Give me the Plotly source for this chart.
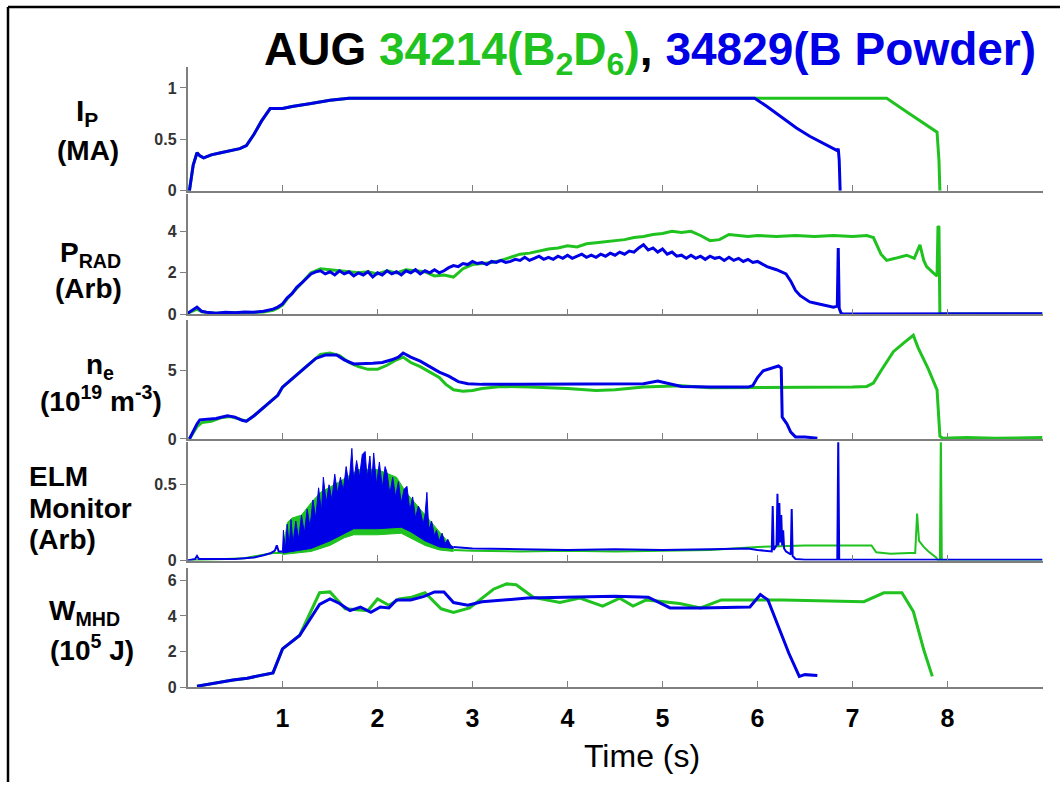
import plotly.graph_objects as go

# ---------------- data ----------------
# Panel 1: plasma current Ip (MA)
ip_blue_t = [0.02, 0.06, 0.1, 0.13, 0.17, 0.25, 0.35, 0.45, 0.55, 0.62, 0.7, 0.78, 0.87, 1.0, 1.1, 1.3, 1.5, 1.7, 2.0, 3.0, 4.0, 5.0, 5.97, 6.1, 6.25, 6.41, 6.55, 6.7, 6.84, 6.85, 6.86, 6.87]
ip_blue_v = [0.0, 0.25, 0.37, 0.34, 0.32, 0.35, 0.37, 0.39, 0.41, 0.44, 0.55, 0.68, 0.8, 0.8, 0.82, 0.85, 0.88, 0.9, 0.9, 0.9, 0.9, 0.9, 0.9, 0.82, 0.72, 0.61, 0.53, 0.46, 0.39, 0.41, 0.3, 0.0]
ip_green_t = [0.02, 0.06, 0.1, 0.13, 0.17, 0.25, 0.35, 0.45, 0.55, 0.62, 0.7, 0.78, 0.87, 1.0, 1.1, 1.3, 1.5, 1.7, 2.0, 3.0, 4.0, 5.0, 6.0, 7.0, 7.36, 7.6, 7.89, 7.91, 7.92]
ip_green_v = [0.0, 0.25, 0.37, 0.34, 0.32, 0.35, 0.37, 0.39, 0.41, 0.44, 0.55, 0.68, 0.8, 0.8, 0.82, 0.85, 0.88, 0.9, 0.9, 0.9, 0.9, 0.9, 0.9, 0.9, 0.9, 0.75, 0.57, 0.3, 0.0]

# Panel 2: radiated power (Arb)
prad_blue_t = [0.0, 0.05, 0.1, 0.15, 0.2, 0.3, 0.4, 0.5, 0.6, 0.7, 0.8, 0.9, 0.95, 1.0, 1.05, 1.1, 1.15, 1.2, 1.25, 1.3, 1.35,
               1.4, 1.45, 1.5, 1.55, 1.6, 1.65, 1.7, 1.75, 1.8, 1.85, 1.9, 1.95, 2.0, 2.05, 2.1, 2.15, 2.2, 2.25, 2.3, 2.35,
               2.4, 2.45, 2.5, 2.55, 2.6, 2.65, 2.7, 2.75, 2.8, 2.85, 2.9, 2.95, 3.0, 3.05, 3.1, 3.15, 3.2, 3.25, 3.3, 3.35,
               3.4, 3.45, 3.5, 3.55, 3.6, 3.65, 3.7, 3.75, 3.8, 3.85, 3.9, 3.95, 4.0, 4.05, 4.1, 4.15, 4.2, 4.25, 4.3, 4.35,
               4.4, 4.45, 4.5, 4.55, 4.6, 4.65, 4.7, 4.75, 4.8, 4.85, 4.9, 4.95, 5.0, 5.05, 5.1, 5.15, 5.2, 5.25, 5.3, 5.35,
               5.4, 5.45, 5.5, 5.55, 5.6, 5.65, 5.7, 5.75, 5.8, 5.85, 5.9, 5.95, 6.0, 6.1, 6.2, 6.3, 6.35, 6.4, 6.45, 6.5,
               6.55, 6.6, 6.65, 6.7, 6.75, 6.8, 6.84, 6.85, 6.86, 6.88, 6.9, 7.0, 8.0, 9.0]
prad_blue_v = [0.05, 0.2, 0.35, 0.15, 0.1, 0.05, 0.1, 0.08, 0.12, 0.1, 0.15, 0.25, 0.35, 0.5, 0.8, 1.0, 1.3, 1.5, 1.75, 1.95, 2.05,
               2.1, 1.95, 2.05, 1.9, 2.1, 1.95, 2.05, 1.85, 2.0, 1.9, 2.05, 1.8, 2.0, 1.9, 2.1, 1.95, 2.05, 1.9, 2.1, 2.0,
               2.15, 1.95, 2.1, 2.0, 2.15, 2.0, 2.1, 2.25, 2.35, 2.3, 2.45, 2.4, 2.55, 2.45, 2.5, 2.4, 2.55, 2.5, 2.6, 2.5,
               2.55, 2.65, 2.6, 2.75, 2.6, 2.7, 2.8, 2.65, 2.75, 2.65, 2.8, 2.7, 2.85, 2.7, 2.8, 2.9, 2.75, 2.85, 2.75, 2.9,
               2.8, 2.95, 2.85, 3.0, 2.9, 3.05, 3.0, 3.2, 3.35, 3.1, 3.2, 3.0, 3.15, 2.9, 3.0, 2.8, 2.85, 2.7, 2.85, 2.7,
               2.8, 2.65, 2.8, 2.7, 2.75, 2.6, 2.75, 2.6, 2.7, 2.55, 2.65, 2.5, 2.55, 2.3, 2.15, 1.95, 1.6, 1.15, 0.9, 0.75,
               0.6, 0.55, 0.5, 0.45, 0.4, 0.35, 0.4, 3.2, 0.3, 0.05, 0.02, 0.02, 0.02, 0.03]
prad_green_t = [0.0, 0.05, 0.1, 0.15, 0.2, 0.3, 0.4, 0.5, 0.6, 0.7, 0.8, 0.9, 0.95, 1.0, 1.05, 1.1, 1.15, 1.2, 1.25, 1.3, 1.35, 1.4, 1.5, 1.6, 1.7, 1.8, 1.9, 2.0, 2.1, 2.2, 2.3, 2.4, 2.5, 2.6, 2.7, 2.8, 2.9, 3.0, 3.1, 3.2, 3.3, 3.4, 3.5, 3.6, 3.7, 3.8, 3.9, 4.0, 4.1, 4.2, 4.3, 4.4, 4.5, 4.6, 4.7, 4.8, 4.9, 5.0, 5.1, 5.2, 5.3, 5.4, 5.5, 5.6, 5.7, 5.8, 5.9, 6.0, 6.2, 6.4, 6.6, 6.8, 7.0, 7.15, 7.22, 7.3, 7.36, 7.45, 7.57, 7.65, 7.71, 7.75, 7.78, 7.85, 7.89, 7.9, 7.91, 7.92, 8.0, 9.0]
prad_green_v = [0.05, 0.15, 0.25, 0.12, 0.1, 0.05, 0.08, 0.08, 0.1, 0.1, 0.12, 0.2, 0.3, 0.45, 0.75, 1.0, 1.3, 1.55, 1.8, 2.0, 2.1, 2.2, 2.15, 2.1, 2.05, 2.0, 2.05, 1.95, 2.1, 2.0, 2.15, 2.1, 2.05, 1.85, 1.9, 1.8, 2.2, 2.4, 2.45, 2.5, 2.6, 2.75, 2.9, 2.95, 3.05, 3.15, 3.2, 3.3, 3.25, 3.4, 3.45, 3.5, 3.55, 3.6, 3.7, 3.75, 3.85, 3.9, 4.0, 3.95, 4.0, 3.8, 3.55, 3.6, 3.85, 3.8, 3.75, 3.8, 3.75, 3.8, 3.75, 3.8, 3.75, 3.8, 3.7, 2.9, 2.6, 2.7, 2.85, 2.7, 3.35, 2.6, 2.3, 2.0, 1.85, 4.25, 4.2, 0.02, 0.02, 0.02]

# Panel 3: electron density (1e19 m^-3)
ne_blue_t = [0.02, 0.06, 0.1, 0.13, 0.2, 0.3, 0.42, 0.5, 0.58, 0.62, 0.7, 0.8, 0.9, 0.95, 1.0, 1.08, 1.15, 1.25, 1.35, 1.45, 1.57, 1.65, 1.75, 1.85, 1.95, 2.05, 2.15, 2.22, 2.27, 2.35, 2.45, 2.55, 2.65, 2.75, 2.85, 2.95, 3.1, 3.5, 4.0, 4.5, 4.8, 4.95, 5.05, 5.2, 5.5, 5.9, 5.95, 6.0, 6.06, 6.15, 6.22, 6.25, 6.26, 6.28, 6.31, 6.35, 6.4, 6.5, 6.63]
ne_blue_v = [0.0, 0.6, 1.1, 1.4, 1.45, 1.5, 1.7, 1.6, 1.35, 1.3, 1.7, 2.3, 2.9, 3.2, 3.8, 4.3, 4.7, 5.3, 5.9, 6.15, 6.15, 5.8, 5.5, 5.5, 5.55, 5.6, 5.8, 6.0, 6.3, 6.0, 5.7, 5.3, 4.9, 4.6, 4.2, 4.05, 4.0, 4.0, 4.0, 4.0, 4.05, 4.25, 4.1, 3.85, 3.8, 3.8, 3.9, 4.5, 5.0, 5.2, 5.35, 5.2, 1.6, 1.4, 1.1, 0.5, 0.15, 0.15, 0.05]
ne_green_t = [0.02, 0.06, 0.1, 0.15, 0.25, 0.35, 0.45, 0.55, 0.62, 0.7, 0.8, 0.9, 0.95, 1.0, 1.08, 1.15, 1.25, 1.3, 1.4, 1.5, 1.6, 1.7, 1.8, 1.9, 2.0, 2.1, 2.2, 2.27, 2.35, 2.45, 2.55, 2.65, 2.72, 2.8, 2.9, 3.0, 3.1, 3.3, 3.6, 4.0, 4.3, 4.5, 4.8, 5.0, 5.2, 5.5, 6.0, 6.5, 7.0, 7.15, 7.22, 7.3, 7.43, 7.55, 7.64, 7.69, 7.8, 7.89, 7.92, 7.95, 8.2, 8.5, 8.8, 9.0]
ne_green_v = [0.0, 0.5, 0.9, 1.2, 1.3, 1.55, 1.65, 1.45, 1.3, 1.7, 2.3, 2.9, 3.2, 3.8, 4.3, 4.7, 5.3, 5.6, 6.2, 6.3, 6.1, 5.6, 5.3, 5.1, 5.1, 5.4, 5.8, 6.0, 5.6, 5.3, 4.9, 4.5, 4.0, 3.6, 3.5, 3.55, 3.7, 3.85, 3.8, 3.7, 3.55, 3.6, 3.8, 3.85, 3.9, 3.75, 3.75, 3.75, 3.8, 3.85, 4.1, 5.0, 6.4, 7.1, 7.6, 6.7, 5.1, 3.6, 0.2, 0.05, 0.1, 0.05, 0.08, 0.1]

# Panel 4: ELM monitor (Arb) -- baselines plus the envelope of the dense ELM phase
elm_blue_t = [0.0, 0.08, 0.1, 0.12, 0.3, 0.5, 0.6, 0.7, 0.8, 0.88, 0.92, 0.94, 0.96, 1.0, None, 2.8, 3.0, 3.5, 4.0, 4.5, 5.0, 5.5, 5.9, 6.0, 6.1, 6.15, 6.16, 6.17, 6.2, 6.21, 6.22, 6.23, 6.24, 6.25, 6.26, 6.27, 6.28, 6.3, 6.35, 6.36, 6.37, 6.4, 6.5, 6.84, 6.85, 6.86, 7.0, 9.0]
elm_blue_v = [0.0, 0.01, 0.03, 0.01, 0.01, 0.01, 0.015, 0.02, 0.035, 0.05, 0.065, 0.1, 0.06, 0.06, None, 0.09, 0.08, 0.075, 0.07, 0.075, 0.07, 0.075, 0.08, 0.07, 0.065, 0.06, 0.36, 0.07, 0.1, 0.44, 0.1, 0.38, 0.12, 0.3, 0.1, 0.2, 0.08, 0.06, 0.04, 0.34, 0.03, 0.01, 0.005, 0.005, 0.8, 0.005, 0.005, 0.005]
elm_green_t = [0.0, 0.3, 0.6, 0.9, 1.0, None, 2.8, 3.0, 3.5, 4.0, 4.5, 5.0, 5.5, 6.0, 6.3, 6.5, 7.0, 7.2, 7.25, 7.4, 7.6, 7.66, 7.68, 7.7, 7.75, 7.8, 7.88, 7.9, 7.92, 7.93, 7.94, 9.0]
elm_green_v = [0.0, 0.01, 0.015, 0.05, 0.05, None, 0.07, 0.065, 0.06, 0.065, 0.06, 0.065, 0.07, 0.09, 0.095, 0.1, 0.1, 0.1, 0.055, 0.045, 0.05, 0.05, 0.31, 0.13, 0.09, 0.06, 0.02, 0.0, 0.0, 0.85, 0.0, 0.0]
elm_green_lo_t = [1.0, 1.3, 1.5, 1.65, 1.75, 2.0, 2.25, 2.35, 2.5, 2.65, 2.8]
elm_green_lo_v = [0.04, 0.06, 0.1, 0.15, 0.17, 0.17, 0.18, 0.15, 0.1, 0.07, 0.06]
elm_green_hi_t = [1.0, 1.05, 1.1, 1.2, 1.3, 1.4, 1.6, 1.8, 2.0, 2.2, 2.3, 2.5, 2.7, 2.8]
elm_green_hi_v = [0.05, 0.25, 0.28, 0.3, 0.38, 0.45, 0.52, 0.6, 0.6, 0.55, 0.45, 0.3, 0.15, 0.08]
elm_blue_lo_t = [1.0, 1.3, 1.5, 1.65, 1.75, 2.0, 2.25, 2.35, 2.5, 2.65, 2.8]
elm_blue_lo_v = [0.05, 0.08, 0.13, 0.18, 0.21, 0.21, 0.22, 0.19, 0.13, 0.09, 0.08]
elm_blue_hi_t = [1.0, 1.01, 1.03, 1.05, 1.07, 1.09, 1.11, 1.14, 1.17, 1.2, 1.23, 1.26, 1.29, 1.32, 1.35, 1.38, 1.41, 1.43, 1.46, 1.49, 1.52, 1.55, 1.58, 1.61, 1.64, 1.67, 1.7, 1.73, 1.75, 1.78, 1.81, 1.84, 1.87, 1.89, 1.92, 1.94, 1.96, 1.99, 2.02, 2.05, 2.08, 2.1, 2.13, 2.16, 2.19, 2.22, 2.25, 2.28, 2.31, 2.34, 2.37, 2.4, 2.43, 2.45, 2.48, 2.5, 2.52, 2.54, 2.57, 2.6, 2.62, 2.65, 2.68, 2.71, 2.74, 2.77, 2.8]
elm_blue_hi_v = [0.06, 0.2, 0.07, 0.24, 0.09, 0.27, 0.11, 0.26, 0.14, 0.3, 0.18, 0.34, 0.22, 0.4, 0.28, 0.48, 0.32, 0.55, 0.38, 0.5, 0.4, 0.57, 0.44, 0.55, 0.46, 0.62, 0.5, 0.74, 0.52, 0.66, 0.55, 0.7, 0.72, 0.54, 0.69, 0.52, 0.71, 0.5, 0.65, 0.48, 0.62, 0.58, 0.44, 0.55, 0.42, 0.52, 0.38, 0.47, 0.49, 0.33, 0.42, 0.28, 0.36, 0.33, 0.24, 0.3, 0.45, 0.2, 0.26, 0.16, 0.2, 0.13, 0.18, 0.11, 0.14, 0.1, 0.09]

# Panel 5: stored energy W_MHD (1e5 J)
w_blue_t = [0.1, 0.3, 0.48, 0.63, 0.9, 1.0, 1.18, 1.39, 1.5, 1.6, 1.71, 1.82, 1.93, 2.03, 2.12, 2.2, 2.35, 2.49, 2.6, 2.7, 2.8, 2.95, 3.1, 3.58, 4.0, 4.5, 4.85, 5.08, 5.4, 5.92, 6.03, 6.11, 6.33, 6.44, 6.5, 6.63]
w_blue_v = [0.05, 0.25, 0.4, 0.5, 0.8, 2.15, 2.9, 4.65, 4.95, 4.7, 4.3, 4.5, 4.2, 4.5, 4.45, 4.9, 4.9, 5.1, 5.35, 5.35, 4.75, 4.6, 4.8, 5.0, 5.05, 5.1, 5.05, 4.45, 4.45, 4.5, 5.2, 4.9, 1.9, 0.6, 0.7, 0.65]
w_green_t = [0.1, 0.3, 0.48, 0.63, 0.9, 1.0, 1.18, 1.39, 1.5, 1.66, 1.9, 2.0, 2.12, 2.23, 2.36, 2.5, 2.67, 2.8, 2.97, 3.22, 3.36, 3.46, 3.64, 3.92, 4.13, 4.37, 4.55, 4.69, 4.83, 5.18, 5.4, 5.62, 5.93, 6.27, 7.12, 7.2, 7.33, 7.52, 7.64, 7.75, 7.84]
w_green_v = [0.05, 0.25, 0.4, 0.5, 0.8, 2.15, 2.9, 5.3, 5.35, 4.4, 4.3, 4.95, 4.6, 4.95, 5.05, 5.3, 4.4, 4.2, 4.45, 5.5, 5.8, 5.75, 5.05, 4.75, 5.0, 4.55, 5.0, 4.55, 4.9, 4.7, 4.45, 4.9, 4.9, 4.9, 4.8, 5.0, 5.3, 5.3, 4.25, 2.1, 0.6]

x_tick_vals = [0, 1, 2, 3, 4, 5, 6, 7, 8, 9]
x_tick_text = ["", "1", "2", "3", "4", "5", "6", "7", "8", ""]
y_ticks = [[0, 0.5, 1], [0, 2, 4], [0, 5], [0, 0.5], [0, 2, 4, 6]]
y_tick_text = [["0", "0.5", "1"], ["0", "2", "4"], ["0", "5"], ["0", "0.5"], ["0", "2", "4", "6"]]
y_tops = [1.2, 5.8, 8.7, 0.78, 6.7]

# ---------------- layout helpers ----------------
W, H = 1060, 791
def px(x):
    return x / W
def py(y):
    return 1 - y / H

GREEN = "#1fc21f"
BLUE = "#0000e6"
AX = "#7f7f7f"
FONT = "Liberation Sans, Arial, sans-serif"

# pixel rows of each panel's zero line
zero_px = [193, 318, 444, 567, 695]
unit_px = [104, 21, 13.8, 153.3, 18]

fig = go.Figure()

def ax(i):
    return ("x" if i == 1 else f"x{i}"), ("y" if i == 1 else f"y{i}")

def line(i, t, v, color, width=3):
    xa, ya = ax(i)
    fig.add_trace(go.Scatter(x=t, y=v, mode="lines", xaxis=xa, yaxis=ya,
                             line=dict(color=color, width=width), hoverinfo="skip",
                             connectgaps=False))

line(1, ip_green_t, ip_green_v, GREEN)
line(1, ip_blue_t, ip_blue_v, BLUE)
line(2, prad_green_t, prad_green_v, GREEN)
line(2, prad_blue_t, prad_blue_v, BLUE)
line(3, ne_green_t, ne_green_v, GREEN)
line(3, ne_blue_t, ne_blue_v, BLUE)

# ELM panel
line(4, elm_green_t, elm_green_v, GREEN, 2)
xa, ya = ax(4)
fig.add_trace(go.Scatter(x=elm_green_lo_t, y=elm_green_lo_v, mode="lines", xaxis=xa, yaxis=ya,
                         line=dict(color=GREEN, width=1), hoverinfo="skip"))
fig.add_trace(go.Scatter(x=elm_green_hi_t, y=elm_green_hi_v, mode="lines", xaxis=xa, yaxis=ya,
                         line=dict(color=GREEN, width=1), fill="tonexty", fillcolor=GREEN, hoverinfo="skip"))
line(4, elm_blue_t, elm_blue_v, BLUE, 2)
fig.add_trace(go.Scatter(x=elm_blue_lo_t, y=elm_blue_lo_v, mode="lines", xaxis=xa, yaxis=ya,
                         line=dict(color=BLUE, width=1), hoverinfo="skip"))
fig.add_trace(go.Scatter(x=elm_blue_hi_t, y=elm_blue_hi_v, mode="lines", xaxis=xa, yaxis=ya,
                         line=dict(color=BLUE, width=1), fill="tonexty", fillcolor=BLUE, hoverinfo="skip"))

line(5, w_green_t, w_green_v, GREEN)
line(5, w_blue_t, w_blue_v, BLUE)

layout = dict(width=W, height=H, margin=dict(l=0, r=0, t=0, b=0),
              paper_bgcolor="white", plot_bgcolor="white", showlegend=False)
for i in range(1, 6):
    k = "" if i == 1 else str(i)
    bottom = zero_px[i - 1]
    top = bottom - y_tops[i - 1] * unit_px[i - 1]
    layout["xaxis" + k] = dict(domain=[px(187.5), px(1042.5)], range=[0, 9], anchor="y" + k,
                               showline=True, linecolor=AX, linewidth=1.5, showgrid=False, zeroline=False,
                               ticks="inside", ticklen=6, tickwidth=1.2, tickcolor=AX,
                               tickmode="array", tickvals=x_tick_vals, ticktext=x_tick_text,
                               showticklabels=(i == 5), ticklabelstandoff=8,
                               tickfont=dict(family=FONT, size=25, color="black", weight="bold"))
    layout["yaxis" + k] = dict(domain=[py(bottom), py(top)], range=[0, y_tops[i - 1]], anchor="x" + k,
                               showline=True, linecolor=AX, linewidth=1.5, showgrid=False, zeroline=False,
                               ticks="outside", ticklen=6, tickwidth=1.2, tickcolor=AX,
                               tickmode="array", tickvals=y_ticks[i - 1], ticktext=y_tick_text[i - 1],
                               tickfont=dict(family=FONT, size=16, color="#333333", weight="bold"))
fig.update_layout(**layout)

annotations = []
def ann(text, x, y, size=28, anchor="center", bold=True, color="black"):
    annotations.append(dict(text=text, x=px(x), y=py(y), xref="paper", yref="paper",
                            xanchor=anchor, yanchor="middle", showarrow=False, align=anchor if anchor != "center" else "center",
                            font=dict(family=FONT, size=size, color=color, weight="bold" if bold else "normal")))

ann("AUG <span style='color:%s'>34214(B<sub>2</sub>D<sub>6</sub>)</span>, <span style='color:%s'>34829(B Powder)</span>" % (GREEN, BLUE),
    1038, 53, size=46, anchor="right")
ann("I<sub>P</sub>", 87, 114, size=30)
ann("(MA)", 88, 152)
ann("P<sub>RAD</sub>", 90, 257)
ann("(Arb)", 88, 292)
ann("n<sub>e</sub>", 100, 371)
ann("(10<sup>19</sup> m<sup>-3</sup>)", 101, 404)
ann("ELM", 27, 482, anchor="left")
ann("Monitor", 27, 514, anchor="left")
ann("(Arb)", 27, 546, anchor="left")
ann("W<sub>MHD</sub>", 84, 620)
ann("(10<sup>5</sup> J)", 92, 655)
ann("Time (s)", 642, 765, size=32, bold=False)
fig.update_layout(annotations=annotations)

# outer frame of the figure: only its left and top edges fall inside the picture
fig.add_shape(type="line", xref="paper", yref="paper", x0=px(8), x1=px(8), y0=0, y1=py(7),
              line=dict(color="black", width=2.5))
fig.add_shape(type="line", xref="paper", yref="paper", x0=px(8), x1=1, y0=py(7), y1=py(7),
              line=dict(color="black", width=2.5))

fig.write_html("out.html")
